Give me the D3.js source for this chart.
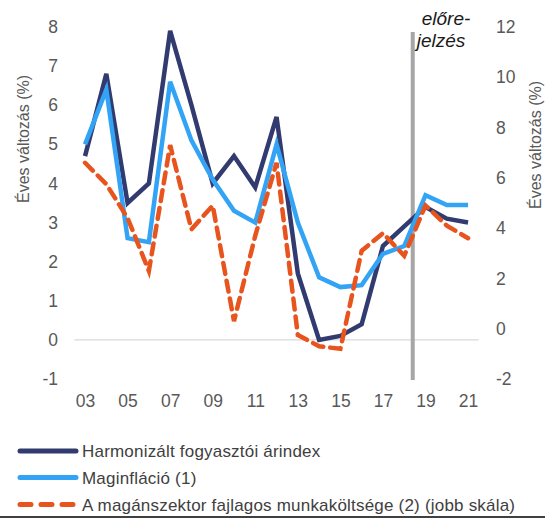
<!DOCTYPE html>
<html>
<head>
<meta charset="utf-8">
<script src="https://cdn.jsdelivr.net/npm/d3@7"></script>
<style>
  html, body { margin: 0; padding: 0; background: #fff; }
  svg { display: block; font-family: "Liberation Sans", Arial, sans-serif; }
</style>
</head>
<body>
<svg id="chart" width="545" height="518"></svg>
<script>
// ---- data ----
const years = ["03","04","05","06","07","08","09","10","11","12","13","14","15","16","17","18","19","20","21"];
const hicp  = [4.7, 6.8, 3.5, 4.0, 7.9, 6.0, 4.0, 4.7, 3.9, 5.7, 1.7, 0.0, 0.1, 0.4, 2.4, 2.9, 3.4, 3.1, 3.0];
const core  = [5.0, 6.4, 2.6, 2.5, 6.6, 5.1, 4.1, 3.3, 3.0, 5.0, 3.0, 1.6, 1.35, 1.4, 2.2, 2.4, 3.7, 3.45, 3.45];
const ulc   = [6.6, 5.75, 4.4, 2.3, 7.3, 3.95, 4.9, 0.3, 3.7, 6.6, -0.25, -0.7, -0.8, 3.1, 3.8, 2.9, 4.9, 4.1, 3.6];
const leftTicks  = [-1, 0, 1, 2, 3, 4, 5, 6, 7, 8];
const rightTicks = [-2, 0, 2, 4, 6, 8, 10, 12];
const xTickLabels = ["03","05","07","09","11","13","15","17","19","21"];
const seriesNames = ["Harmonizált fogyasztói árindex", "Maginfláció (1)", "A magánszektor fajlagos munkaköltsége (2) (jobb skála)"];
const axisTitle = "Éves változás (%)";
const forecastLabel = ["előre-", "jelzés"];
const forecastAfter = "18";

const colors = ["#323b70", "#33a3f5", "#e8541d"];
const FONT = "Liberation Sans, Arial, sans-serif";

const svg = d3.select("#chart");

const x = d3.scalePoint().domain(years).range([74.4, 478.7]).padding(0.5);
const yL = d3.scaleLinear().domain([-1, 8]).range([379, 27]);
const yR = d3.scaleLinear().domain([-2, 12]).range([379, 27]);

// zero gridline
svg.append("line")
  .attr("x1", 74.4).attr("x2", 478.7)
  .attr("y1", yL(0)).attr("y2", yL(0))
  .attr("stroke", "#d9d9d9").attr("stroke-width", 1.3);

const fmt = d => String(d);

// left axis
const axL = d3.axisLeft(yL).tickValues(leftTicks).tickSize(0).tickPadding(0).tickFormat(fmt);
const gL = svg.append("g").attr("transform", "translate(58,0)").call(axL);
gL.select(".domain").remove();
gL.selectAll("text").attr("font-size", "17.5px").attr("fill", "#595959").attr("font-family", FONT);

// right axis
const axR = d3.axisRight(yR).tickValues(rightTicks).tickSize(0).tickPadding(0).tickFormat(fmt);
const gR = svg.append("g").attr("transform", "translate(496,0)").call(axR);
gR.select(".domain").remove();
gR.selectAll("text").attr("font-size", "17.5px").attr("fill", "#595959").attr("font-family", FONT);

// x axis
const axX = d3.axisBottom(x).tickValues(xTickLabels).tickSize(0).tickPadding(0);
const gX = svg.append("g").attr("transform", "translate(0,395)").call(axX);
gX.select(".domain").remove();
gX.selectAll("text").attr("font-size", "17.5px").attr("fill", "#595959").attr("font-family", FONT);

// axis titles
svg.append("text")
  .attr("transform", `translate(29,${(yL(8)+yL(-1))/2 - 64}) rotate(-90)`)
  .attr("text-anchor", "middle")
  .attr("font-size", "16px").attr("fill", "#595959")
  .text(axisTitle);
svg.append("text")
  .attr("transform", `translate(541,${(yR(12)+yR(-2))/2 - 58}) rotate(-90)`)
  .attr("text-anchor", "middle")
  .attr("font-size", "16px").attr("fill", "#595959")
  .text(axisTitle);

// forecast line
const step = x.step();
const fx = x(forecastAfter) + 0.4 * step;
svg.append("line")
  .attr("x1", fx).attr("x2", fx)
  .attr("y1", 32).attr("y2", 380)
  .attr("stroke", "#a6a6a6").attr("stroke-width", 4);
svg.append("text").attr("x", fx + 9).attr("y", 25)
  .attr("font-size", "19px").attr("font-style", "italic").attr("fill", "#1a1a1a")
  .text(forecastLabel[0]);
svg.append("text").attr("x", fx + 4).attr("y", 47)
  .attr("font-size", "19px").attr("font-style", "italic").attr("fill", "#1a1a1a")
  .text(forecastLabel[1]);

// lines
const lineL = d3.line().x((d, i) => x(years[i])).y(d => yL(d));
const lineR = d3.line().x((d, i) => x(years[i])).y(d => yR(d));

svg.append("path").datum(hicp).attr("d", lineL)
  .attr("fill", "none").attr("stroke", colors[0]).attr("stroke-width", 4.5).attr("stroke-linejoin", "miter");
svg.append("path").datum(core).attr("d", lineL)
  .attr("fill", "none").attr("stroke", colors[1]).attr("stroke-width", 4.5).attr("stroke-linejoin", "miter");
svg.append("path").datum(ulc).attr("d", lineR)
  .attr("fill", "none").attr("stroke", colors[2]).attr("stroke-width", 4.5)
  .attr("stroke-dasharray", "11,7").attr("stroke-linecap", "round");

// legend
const legY = [451, 477.5, 504.5];
seriesNames.forEach((name, i) => {
  const g = svg.append("g");
  g.append("line").attr("x1", 20).attr("x2", 76).attr("y1", legY[i]).attr("y2", legY[i])
    .attr("stroke", colors[i]).attr("stroke-width", 5).attr("stroke-linecap", "round")
    .attr("stroke-dasharray", i === 2 ? "11,10" : null);
  g.append("text").attr("x", 82).attr("y", legY[i] + 6)
    .attr("font-size", "17px").attr("letter-spacing", "0.2px").attr("fill", "#404040")
    .text(name);
});

// bottom border
svg.append("line").attr("x1", 0).attr("x2", 545).attr("y1", 517).attr("y2", 517)
  .attr("stroke", "#000").attr("stroke-width", 1.5);
</script>
</body>
</html>
